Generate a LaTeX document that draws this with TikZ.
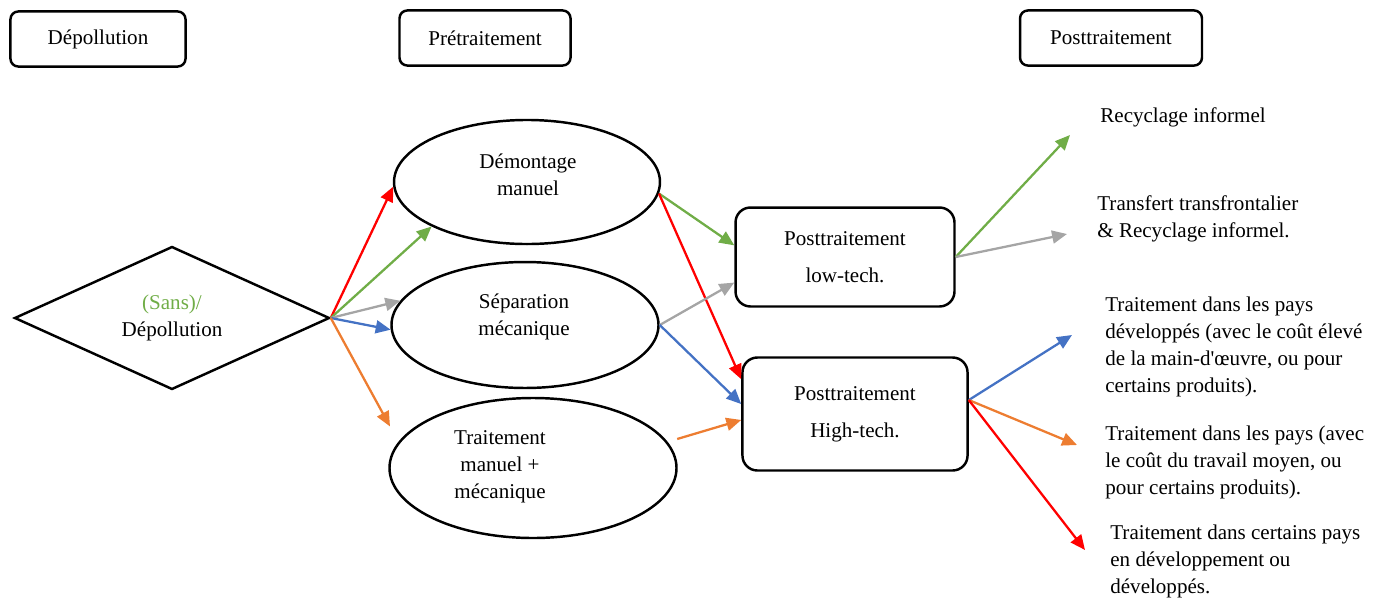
\documentclass[tikz,border=0pt]{standalone}
\usepackage{fontspec}
\setmainfont{Liberation Serif}
\usetikzlibrary{shapes.geometric,arrows.meta}
\definecolor{arrred}{RGB}{255,0,0}
\definecolor{arrgreen}{RGB}{112,173,71}
\definecolor{arrgray}{RGB}{165,165,165}
\definecolor{arrblue}{RGB}{68,114,196}
\definecolor{arrorange}{RGB}{237,125,49}
\tikzset{>={Triangle[length=8.5pt,width=7.4pt]}}

\begin{document}
\begin{tikzpicture}[x=0.57pt,y=-0.57pt,font=\fontsize{12}{15.4}\selectfont,
    head/.style={draw,line width=1.4pt,rounded corners=4.5pt,minimum height=31.4pt},
    oval/.style={draw,ellipse,line width=1.4pt},
    post/.style={draw,line width=1.4pt,rounded corners=8.5pt,align=center},
    info/.style={anchor=west,align=left,inner sep=0pt},
    arr/.style={->,line width=1.3pt}]
    \useasboundingbox (0,0) rectangle (1384,599);
    % column heads
    \node[head,minimum width=99.8pt] (dep) at (98,39) {Dépollution};
    \node[head,minimum width=97.5pt] (pre) at (485,38) {Prétraitement};
    \node[head,minimum width=103.7pt] (post) at (1111,38) {Posttraitement};
    \node[draw,diamond,aspect=2.2,line width=1.4pt,minimum width=179.6pt,minimum height=81.5pt,
        align=center,inner sep=0pt] (dia) at (172,318) {\textcolor{arrgreen}{(Sans)/}\\Dépollution};
    \node[oval,minimum width=151.6pt,minimum height=70.7pt] (dem) at (527,182) {};
    \node[align=center] (demtxt) at (528,175) {Démontage\\manuel};
    \node[oval,minimum width=152.2pt,minimum height=71.8pt] (sep) at (525,325) {};
    \node[align=center] (septxt) at (524,317) {Séparation\\mécanique};
    \node[oval,minimum width=163.6pt,minimum height=79.8pt] (man) at (533,468) {};
    \node[align=center] (mantxt) at (500,467) {Traitement\\manuel +\\mécanique};
    \node[post,minimum width=124.8pt,minimum height=56.4pt] (low) at (845,257) {Posttraitement\\[5.7pt]low-tech.};
    \node[post,minimum width=128.3pt,minimum height=64.4pt] (high) at (855,414) {Posttraitement\\[5.7pt]High-tech.};
    % outcomes
    \node[info] (recyc) at (1100,117) {Recyclage informel};
    \node[info] (transf) at (1097,219) {Transfert transfrontalier\\\& Recyclage informel.};
    \node[info] (devd) at (1105,347) {Traitement dans les pays\\développés (avec le coût élevé\\de la main-d\textquotesingle œuvre, ou pour\\certains produits).};
    \node[info] (moy) at (1105,462) {Traitement dans les pays (avec\\le coût du travail moyen, ou\\pour certains produits).};
    \node[info] (dvpt) at (1110,561) {Traitement dans certains pays\\en développement ou\\développés.};
    \coordinate (toRecyc) at (1070,135);
    \coordinate (toTransf) at (1067,234);
    \coordinate (toDevd) at (1072,335);
    \coordinate (toMoy) at (1077,445);
    \coordinate (toDvpt) at (1085,550);
    \draw[arr,arrred] (dia.east) -- (dem.182);
    \draw[arr,arrgreen] (dia.east) -- (dem.205);
    \draw[arr,arrgray] (dia.east) -- (sep.169);
    \draw[arr,arrblue] (dia.east) -- (sep.182);
    \draw[arr,arrorange,shorten >=10pt] (dia.east) -- (man.169);
    \draw[arr,arrgreen] (dem.-5) -- (low.174);
    \draw[arr,arrred] (dem.-5) -- (high.163);
    \draw[arr,arrgray] (sep.east) -- (low.193);
    \draw[arr,arrblue] (sep.east) -- (high.175);
    \draw[arr,arrorange,shorten <=5.7pt] (man.11) -- (high.183);
    \draw[arr,arrgreen] (low.east) -- (toRecyc);
    \draw[arr,arrgray] (low.east) -- (toTransf);
    \draw[arr,arrblue] (high.7) -- (toDevd);
    \draw[arr,arrorange] (high.7) -- (toMoy);
    \draw[arr,arrred] (high.7) -- (toDvpt);
\end{tikzpicture}
\end{document}
